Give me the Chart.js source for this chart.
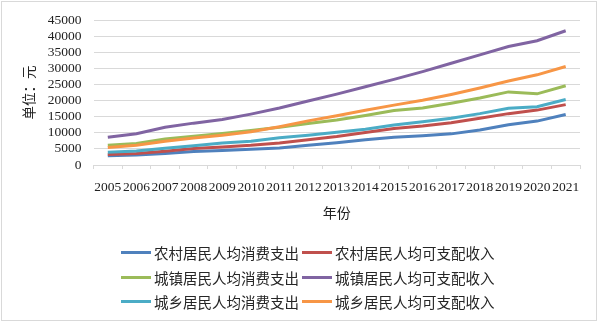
<!DOCTYPE html>
<html>
<head>
<meta charset="utf-8">
<script src="https://cdn.jsdelivr.net/npm/chart.js@4/dist/chart.umd.min.js"></script>
<style>
  html, body { margin: 0; padding: 0; background: #ffffff; }
  #wrap { position: relative; width: 600px; height: 325px; overflow: hidden; background: #fff; }
  #frame { position: absolute; left: 1px; top: 1px; width: 594px; height: 318px; border: 1px solid #d9d9d9; pointer-events: none; }
  canvas { position: absolute; left: 0; top: 0; }
  .lg { position: absolute; height: 20px; display: flex; align-items: center; font-family: 'Noto Sans CJK SC', 'Liberation Serif', serif; font-size: 14.5px; color: #262626; white-space: nowrap; }
  .lg span.ln { display: inline-block; width: 30px; height: 3px; margin-right: 3px; }
</style>
</head>
<body>
<div id="wrap">
  <canvas id="c" width="600" height="325"></canvas>
  <div id="frame"></div>
</div>
<script>
// ---- data ----
const years = ['2005','2006','2007','2008','2009','2010','2011','2012','2013','2014','2015','2016','2017','2018','2019','2020','2021'];
const seriesNames = ['农村居民人均消费支出','农村居民人均可支配收入','城镇居民人均消费支出','城镇居民人均可支配收入','城乡居民人均消费支出','城乡居民人均可支配收入'];
const ruralConsumption = [2840, 3140, 3570, 4180, 4480, 4880, 5280, 6100, 6920, 7840, 8630, 9060, 9670, 10880, 12500, 13630, 15700];
const ruralIncome      = [3260, 3600, 4300, 5100, 5600, 6100, 6850, 7840, 8850, 10070, 11300, 12100, 13150, 14500, 15950, 17050, 18750];
const urbanConsumption = [6100, 6700, 8100, 8900, 9800, 10700, 11700, 12900, 14000, 15400, 16900, 17700, 19200, 20800, 22700, 22100, 24600];
const urbanIncome      = [8600, 9700, 11700, 13000, 14100, 15800, 17700, 19900, 22000, 24300, 26600, 29000, 31600, 34200, 36800, 38600, 41700];
const allConsumption   = [3970, 4360, 5190, 6000, 6800, 7400, 8440, 9250, 10160, 11070, 12400, 13420, 14550, 15950, 17600, 18090, 20340];
const allIncome        = [5400, 6100, 7400, 8400, 9250, 10300, 11900, 13700, 15300, 17000, 18600, 20100, 21900, 23900, 26100, 28000, 30600];
const yTickMin = 0, yTickMax = 45000, yTickStep = 5000;
const yTitle = '单位：元';
const xTitle = '年份';

const colors = ['#4F81BD', '#C0504D', '#9BBB59', '#8064A2', '#4BACC6', '#F79646'];
const values = [ruralConsumption, ruralIncome, urbanConsumption, urbanIncome, allConsumption, allIncome];

const latin = "'Liberation Serif', 'Noto Sans CJK SC', serif";
const cjk = "'Noto Sans CJK SC', 'Liberation Serif', serif";

const datasets = values.map((v, i) => ({
  label: seriesNames[i],
  data: v,
  borderColor: colors[i],
  backgroundColor: colors[i],
  borderWidth: 3,
  pointRadius: 0,
  pointHoverRadius: 0,
  tension: 0,
  fill: false,
  order: values.length - i
}));

const chart = new Chart(document.getElementById('c'), {
  type: 'line',
  data: { labels: years, datasets: datasets },
  options: {
    responsive: false,
    animation: false,
    events: [],
    layout: { padding: { left: 0, right: 20, top: 17, bottom: 104 } },
    plugins: { legend: { display: false }, tooltip: { enabled: false }, title: { display: false } },
    scales: {
      x: {
        type: 'category',
        offset: true,
        grid: { offset: true, drawOnChartArea: false, drawTicks: true, tickLength: 4, color: '#d9d9d9', lineWidth: 1 },
        border: { display: true, color: '#d9d9d9', width: 1 },
        ticks: { autoSkip: false, maxRotation: 0, minRotation: 0, padding: 10, color: '#222', font: { family: latin, size: 13.5 } },
        title: { display: true, text: xTitle, color: '#222', font: { family: cjk, size: 14 }, padding: { top: 4, bottom: 0 } },
        afterFit: (s) => { s.height = 56; }
      },
      y: {
        min: yTickMin, max: yTickMax,
        grid: { color: '#d9d9d9', lineWidth: 1, drawTicks: false },
        border: { display: false },
        ticks: { stepSize: yTickStep, autoSkip: false, padding: 12, color: '#222', font: { family: latin, size: 13.5 }, callback: (v) => String(v) },
        title: { display: true, text: yTitle, color: '#222', font: { family: cjk, size: 13.5 }, padding: { top: 20.6, bottom: 0 } },
        afterFit: (s) => { s.width = 93.5; }
      }
    }
  }
});

// HTML legend built from the chart's datasets (2 columns x 3 rows)
const wrap = document.getElementById('wrap');
const legendCols = [121, 302];
const legendRows = [252, 277, 301.5];
chart.data.datasets.forEach((ds, i) => {
  const d = document.createElement('div');
  d.className = 'lg';
  d.style.left = legendCols[i % 2] + 'px';
  d.style.top = (legendRows[Math.floor(i / 2)] - 10) + 'px';
  const ln = document.createElement('span');
  ln.className = 'ln';
  ln.style.background = ds.borderColor;
  const tx = document.createElement('span');
  tx.textContent = ds.label;
  d.appendChild(ln);
  d.appendChild(tx);
  wrap.appendChild(d);
});
</script>
</body>
</html>
